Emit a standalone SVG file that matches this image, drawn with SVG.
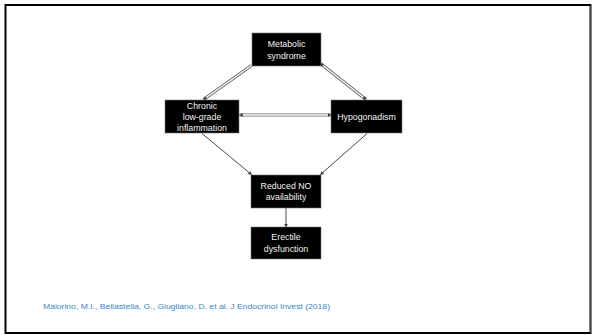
<svg xmlns="http://www.w3.org/2000/svg" width="592" height="335" viewBox="0 0 592 335">
<style>
.box{fill:#000;stroke:#777;stroke-width:0.6}
.lbl{font-family:"Liberation Sans",Arial,sans-serif;font-size:8.8px;fill:#f2f2f2;text-anchor:middle}
.dbl{stroke:#666;stroke-width:3;fill:none}
.dbli{stroke:#fff;stroke-width:1.3;fill:none}
.sgl{stroke:#4a4a4a;stroke-width:1;fill:none}
.cite{font-family:"Liberation Sans",Arial,sans-serif;font-size:7.4px;fill:#3b86c6}
</style>
<defs>
<marker id="ah" viewBox="0 0 6 6" refX="5" refY="3" markerWidth="4" markerHeight="4" markerUnits="userSpaceOnUse" orient="auto-start-reverse">
<path d="M0,0 L6,3 L0,6 z" fill="#444"/>
</marker>
</defs>
<rect x="0" y="0" width="592" height="335" fill="#fff"/>
<rect x="5.5" y="5" width="585" height="328" fill="none" stroke="#000" stroke-width="2"/>
<line x1="591" y1="5" x2="591" y2="333" stroke="#888" stroke-width="1"/>
<g id="connectors">
<line class="dbl" x1="251.5" y1="65.5" x2="203.5" y2="99.5"/>
<line class="dbli" x1="251.5" y1="65.5" x2="203.5" y2="99.5"/>
<line class="sgl" x1="251.5" y1="65.5" x2="203.5" y2="99.5" stroke-opacity="0" marker-end="url(#ah)"/>
<line class="dbl" x1="320.5" y1="63.5" x2="366" y2="99.5"/>
<line class="dbli" x1="320.5" y1="63.5" x2="366" y2="99.5"/>
<line class="sgl" x1="320.5" y1="63.5" x2="366" y2="99.5" stroke-opacity="0" marker-start="url(#ah)" marker-end="url(#ah)"/>
<line class="dbl" x1="239.5" y1="115" x2="331" y2="115"/>
<line class="dbli" x1="239.5" y1="115" x2="331" y2="115"/>
<line class="sgl" x1="239.5" y1="115" x2="331" y2="115" stroke-opacity="0" marker-start="url(#ah)" marker-end="url(#ah)"/>
<line class="sgl" x1="202" y1="133.5" x2="251.5" y2="174.5" marker-end="url(#ah)"/>
<line class="sgl" x1="367" y1="133.5" x2="320.5" y2="174.5" marker-end="url(#ah)"/>
<line class="sgl" x1="286" y1="208" x2="286" y2="227" marker-end="url(#ah)"/>
</g>
<g id="metabolic">
<rect class="box" x="252" y="33" width="69" height="33"/>
<text class="lbl" x="286.5" y="47.3">Metabolic</text>
<text class="lbl" x="286.5" y="59">syndrome</text>
</g>
<g id="chronic">
<rect class="box" x="165" y="100" width="74" height="33"/>
<text class="lbl" x="202" y="109">Chronic</text>
<text class="lbl" x="202" y="119.7">low-grade</text>
<text class="lbl" x="202" y="131.2">inflammation</text>
</g>
<g id="hypogonadism">
<rect class="box" x="331" y="100" width="71" height="33"/>
<text class="lbl" x="366.5" y="119.7">Hypogonadism</text>
</g>
<g id="reduced">
<rect class="box" x="251" y="175" width="70" height="33"/>
<text class="lbl" x="286" y="189">Reduced NO</text>
<text class="lbl" x="286" y="199.7">availability</text>
</g>
<g id="erectile">
<rect class="box" x="251" y="227" width="70" height="32"/>
<text class="lbl" x="286" y="239.7">Erectile</text>
<text class="lbl" x="286" y="251.7">dysfunction</text>
</g>
<text class="cite" x="43" y="308.5" textLength="287" lengthAdjust="spacingAndGlyphs">Maiorino, M.I., Bellastella, G., Giugliano, D. et al. J Endocrinol Invest  (2018)</text>
</svg>
